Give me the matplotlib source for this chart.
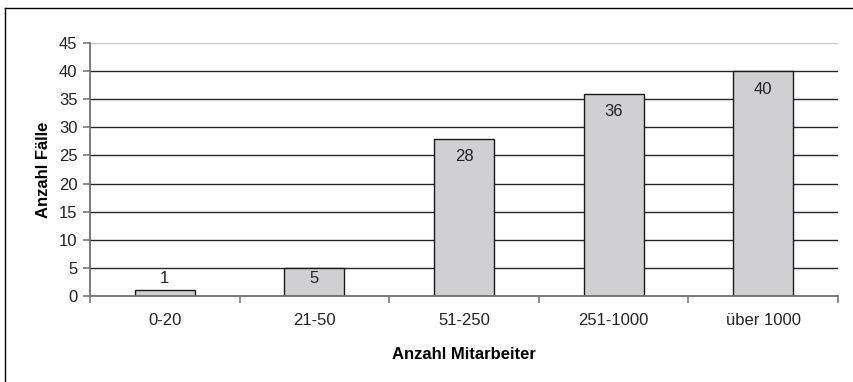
import matplotlib
matplotlib.use("Agg")
import matplotlib.pyplot as plt
from matplotlib.lines import Line2D
import numpy as np

categories = ["0-20", "21-50", "51-250", "251-1000", "über 1000"]
counts = [1, 5, 28, 36, 40]
y_ticks = [0, 5, 10, 15, 20, 25, 30, 35, 40, 45]

plt.rcParams["font.family"] = ["Liberation Sans", "DejaVu Sans"]
plt.rcParams["font.size"] = 12

W, H = 854, 382
fig = plt.figure(figsize=(W / 100, H / 100), dpi=100)
ax = fig.add_axes([90 / W, 1 - 296 / H, (838 - 90) / W, (296 - 43) / H])

x = np.arange(len(categories))
ax.set_xlim(-0.5, len(categories) - 0.5)
ax.set_ylim(0, 45)

# horizontal gridlines
for t in y_ticks[1:]:
    col = "#c8c8c8" if t == 45 else "#252525"
    ax.axhline(t, color=col, lw=1.0, zorder=1)

ax.bar(x, counts, width=0.4, color="#d0d0d2", edgecolor="#1a1a1a",
       linewidth=1.0, zorder=2)

# value labels: inside near the top, pushed above the bar when it is too short
px_per_unit = ax.transData.transform((0, 1))[1] - ax.transData.transform((0, 0))[1]
for xi, v in zip(x, counts):
    bar_px = v * px_per_unit
    off = -min(18.0, bar_px - 17.5)
    ax.annotate(str(v), (xi, v), xytext=(0, off), textcoords="offset pixels",
                ha="center", va="center", fontsize=12, color="#222222", zorder=3)

for s in ["top", "right"]:
    ax.spines[s].set_visible(False)
for s in ["left", "bottom"]:
    ax.spines[s].set_color("#707070")
    ax.spines[s].set_linewidth(1.3)
    ax.spines[s].set_zorder(4)

ax.set_yticks(y_ticks)
ax.tick_params(axis="y", length=5, width=1.1, color="#707070", pad=4,
               labelsize=12, labelcolor="#222222")

# x ticks at category boundaries, labels at category centres
ax.set_xticks(np.arange(-0.5, len(categories), 1.0))
ax.set_xticklabels([])
ax.tick_params(axis="x", which="major", length=5, width=1.1, color="#707070")
ax.set_xticks(x, minor=True)
ax.set_xticklabels(categories, minor=True)
ax.tick_params(axis="x", which="minor", length=0, pad=12, labelsize=12,
               labelcolor="#222222")

ax.set_xlabel("Anzahl Mitarbeiter", fontweight="bold", fontsize=12, labelpad=14)
ax.set_ylabel("Anzahl Fälle", fontweight="bold", fontsize=12, labelpad=6)

# outer frame (top and left edges)
fig.add_artist(Line2D([5 / W, 1], [1 - 8 / H, 1 - 8 / H], transform=fig.transFigure,
                      color="black", lw=1.0))
fig.add_artist(Line2D([5 / W, 5 / W], [0, 1 - 8 / H], transform=fig.transFigure,
                      color="black", lw=1.0))

fig.savefig("out.png", dpi=100)
